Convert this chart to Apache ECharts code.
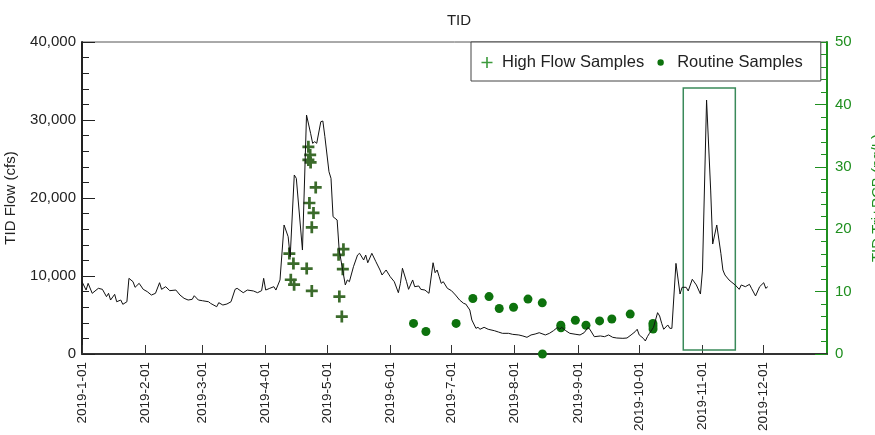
<!DOCTYPE html>
<html>
<head>
<meta charset="utf-8">
<script src="https://cdn.jsdelivr.net/npm/echarts@6/dist/echarts.min.js"></script>
<style>
  html, body { margin: 0; padding: 0; background: #fff; }
  #main { width: 875px; height: 435px; }
</style>
</head>
<body>
<div id="main"></div>
<script>
// daily TID flow (cfs)
const flowDates = [
  '2019-01-01','2019-01-03','2019-01-04','2019-01-06','2019-01-09','2019-01-11','2019-01-13','2019-01-14','2019-01-15','2019-01-17',
  '2019-01-18','2019-01-20','2019-01-21','2019-01-23','2019-01-24','2019-01-26','2019-01-27','2019-01-29','2019-01-31',
  '2019-02-02','2019-02-04','2019-02-06','2019-02-08','2019-02-09','2019-02-11','2019-02-13','2019-02-16','2019-02-18','2019-02-20',
  '2019-02-22','2019-02-24','2019-02-25','2019-02-27',
  '2019-03-01','2019-03-04','2019-03-05','2019-03-08','2019-03-09','2019-03-11','2019-03-13','2019-03-15','2019-03-17','2019-03-18',
  '2019-03-21','2019-03-23','2019-03-26','2019-03-28','2019-03-30','2019-03-31',
  '2019-04-01','2019-04-03','2019-04-05','2019-04-06','2019-04-08','2019-04-10','2019-04-12','2019-04-13','2019-04-15','2019-04-16',
  '2019-04-19','2019-04-21','2019-04-23','2019-04-24','2019-04-25','2019-04-26','2019-04-28','2019-04-29','2019-04-30',
  '2019-05-02','2019-05-03','2019-05-04','2019-05-06','2019-05-07','2019-05-09','2019-05-10','2019-05-11','2019-05-12','2019-05-14',
  '2019-05-16','2019-05-17','2019-05-19','2019-05-20','2019-05-21','2019-05-23','2019-05-25','2019-05-27','2019-05-28','2019-05-30',
  '2019-06-01','2019-06-03','2019-06-05','2019-06-06','2019-06-07','2019-06-09','2019-06-10','2019-06-12','2019-06-13','2019-06-15',
  '2019-06-16','2019-06-18','2019-06-20','2019-06-22','2019-06-23','2019-06-24','2019-06-25','2019-06-26','2019-06-27','2019-06-29',
  '2019-07-01','2019-07-03','2019-07-05','2019-07-07','2019-07-08','2019-07-10','2019-07-11','2019-07-13','2019-07-14','2019-07-15',
  '2019-07-17','2019-07-19','2019-07-22','2019-07-24','2019-07-26','2019-07-29','2019-07-31',
  '2019-08-03','2019-08-05','2019-08-07','2019-08-09','2019-08-11','2019-08-13','2019-08-16','2019-08-18','2019-08-20','2019-08-22',
  '2019-08-23','2019-08-24','2019-08-26','2019-08-28','2019-08-31',
  '2019-09-02','2019-09-04','2019-09-06','2019-09-07','2019-09-09','2019-09-12','2019-09-14','2019-09-16','2019-09-18','2019-09-20',
  '2019-09-23','2019-09-25','2019-09-27','2019-09-29','2019-09-30',
  '2019-10-01','2019-10-03','2019-10-04','2019-10-05','2019-10-06','2019-10-08','2019-10-10','2019-10-11','2019-10-12','2019-10-13',
  '2019-10-15','2019-10-16','2019-10-17','2019-10-19','2019-10-21','2019-10-22','2019-10-24','2019-10-25','2019-10-27','2019-10-29',
  '2019-10-31',
  '2019-11-01','2019-11-03','2019-11-05','2019-11-06','2019-11-08','2019-11-10','2019-11-11','2019-11-12','2019-11-14','2019-11-15',
  '2019-11-17','2019-11-19','2019-11-20','2019-11-22','2019-11-24','2019-11-25','2019-11-27','2019-11-29',
  '2019-12-01','2019-12-02','2019-12-03'
];
const flowValues = [
  9270,8200,9060,7780,8420,8290,7350,7780,6920,7650,
  6700,6920,6370,6700,9700,9270,8550,9060,8290,
  7990,7560,7780,9140,8290,8630,8120,8200,7560,7140,
  6920,7010,7470,6920,
  6830,6700,6490,6060,6580,6280,6410,6700,8290,8420,
  7860,8200,8080,7860,8120,9700,
  8200,8420,8630,8200,9490,16540,15040,12470,22950,22520,
  13330,30640,28290,27010,27220,27010,29780,29870,27860,
  23370,22520,17600,17180,13330,10350,8850,9490,9270,11190,
  12690,12910,12050,12690,11700,12910,11830,10770,10130,10770,
  9910,9270,7860,9060,10990,9270,8290,9490,8630,8720,
  8290,8200,7780,11700,10420,10770,9910,9060,9270,8420,
  8120,7560,6920,6490,6410,5640,4360,3290,3420,3170,
  3420,3170,2990,2820,2650,2650,2520,
  2440,2310,2140,2440,2560,2730,2440,2650,2990,3420,
  3170,3420,2990,2650,2520,
  2440,2730,3420,3080,2220,2310,2220,2440,2140,2050,
  2010,2050,2440,2860,3170,
  2440,2010,1670,2220,2650,3420,5300,4870,3940,3170,
  3720,3290,3290,11620,7690,8550,8550,8080,9580,8850,
  7690,
  10770,32560,21020,14100,16540,12910,10770,10130,9490,9270,
  8850,8290,8850,8630,8930,8420,7440,8630,
  9140,8420,8630
];

// Tri+PCB concentrations (pg/L)
const highFlowDates = [
  '2019-04-21 22:00','2019-04-22 19:00','2019-04-21 22:00','2019-04-23 00:00','2019-04-25 12:00',
  '2019-04-22 10:00','2019-04-24 10:00','2019-04-23 14:00','2019-04-12 14:00','2019-04-14 14:00',
  '2019-04-13 07:00','2019-04-14 22:00','2019-04-21 02:00','2019-04-23 14:00','2019-05-06 17:00',
  '2019-05-09 02:00','2019-05-08 19:00','2019-05-07 02:00','2019-05-08 07:00'
];
const highFlowValues = [
  33.2,31.9,31.1,30.7,26.7,
  24.2,22.6,20.3,16.1,14.5,
  11.9,11.1,13.7,10.1,15.9,
  16.8,13.6,9.2,6.0
];
const routineDates = [
  '2019-06-12 10:00','2019-06-18 12:00','2019-07-03 07:00','2019-07-11 12:00','2019-07-19 10:00',
  '2019-07-24 10:00','2019-07-31 10:00','2019-08-07 12:00','2019-08-14 12:00','2019-08-14 14:00',
  '2019-08-23 14:00','2019-08-23 16:00','2019-08-30 17:00','2019-09-04 22:00','2019-09-11 14:00',
  '2019-09-17 14:00','2019-09-26 14:00','2019-10-07 17:00','2019-10-07 18:00','2019-10-07 19:00'
];
const routineValues = [
  4.9,3.6,4.9,8.9,9.2,
  7.3,7.5,8.8,8.2,0,
  4.6,4.2,5.4,4.6,5.3,
  5.6,6.4,4.9,4.5,4.0
];

// highlighted storm window (dates, flow range)
const boxDates = ['2019-10-22 14:00', '2019-11-17 02:00'];
const boxFlow = [500, 34100];

const monthLabels = ['2019-1-01','2019-2-01','2019-3-01','2019-4-01','2019-5-01','2019-6-01',
  '2019-7-01','2019-8-01','2019-9-01','2019-10-01','2019-11-01','2019-12-01'];

const plusSymbol = 'path://M4.25,0H6.75V4.25H11V6.75H6.75V11H4.25V6.75H0V4.25H4.25Z';
const plusIcon = 'path://M0,0L0.01,0M20,14L20.01,14M4.5,6.2H15.5V7.8H4.5ZM9.2,1.5H10.8V12.5H9.2Z';
const dotIcon = 'path://M0,0L0.01,0M20,14L20.01,14M5.3,7A3.2,3.2,0,1,0,11.7,7A3.2,3.2,0,1,0,5.3,7Z';

const green = '#1f8f1f';
const font = 'Liberation Sans, Arial, sans-serif';

let chart = echarts.init(document.getElementById('main'));
let option = {
  backgroundColor: '#ffffff',
  animation: false,
  textStyle: { fontFamily: font },
  title: {
    text: 'TID',
    left: 454,
    top: 8,
    textAlign: 'center',
    textStyle: { fontSize: 15, fontWeight: 'normal', color: '#222', fontFamily: font }
  },
  legend: {
    left: 471,
    top: 42,
    orient: 'horizontal',
    padding: [12, 18, 10, 6],
    itemWidth: 20,
    itemHeight: 14,
    itemGap: 8,
    backgroundColor: '#fff',
    borderColor: '#444',
    borderWidth: 1,
    textStyle: { fontSize: 16.5, color: '#222', fontFamily: font },
    data: [
      { name: 'High Flow Samples', icon: plusIcon, itemStyle: { color: '#3c9a3c' } },
      { name: 'Routine Samples', icon: dotIcon, itemStyle: { color: '#0d720d' } }
    ]
  },
  grid: {
    left: 82, right: 48, top: 42, bottom: 81,
    outerBoundsMode: 'none',
    containLabel: false,
    show: true, borderColor: '#555', borderWidth: 1, backgroundColor: 'transparent'
  },
  xAxis: {
    type: 'time',
    min: '2019-01-01',
    max: '2020-01-01',
    splitNumber: 12,
    axisLine: { lineStyle: { color: '#333', width: 2 } },
    axisTick: { inside: true, length: 9, lineStyle: { color: '#333', width: 1 } },
    splitLine: { show: false },
    axisLabel: {
      rotate: 90,
      margin: 8,
      fontSize: 13.5,
      color: '#222',
      fontFamily: font,
      showMaxLabel: false,
      formatter: function (v) {
        let d = new Date(v);
        if (d.getFullYear() !== 2019 || d.getDate() !== 1) return '';
        return monthLabels[d.getMonth()];
      }
    }
  },
  yAxis: [
    {
      type: 'value',
      min: 0, max: 40000, interval: 10000,
      name: 'TID Flow (cfs)',
      nameLocation: 'middle',
      nameRotate: 90,
      nameGap: 64,
      nameTextStyle: { fontSize: 15, color: '#222', fontFamily: font },
      axisLine: { show: true, lineStyle: { color: '#222', width: 2 } },
      axisTick: { show: true, inside: true, length: 13, lineStyle: { color: '#222', width: 1 } },
      minorTick: { show: true, splitNumber: 5, length: 7, lineStyle: { color: '#222', width: 1 } },
      splitLine: { show: false },
      axisLabel: {
        fontSize: 15, color: '#222', margin: 6, fontFamily: font,
        formatter: function (v) { return v.toLocaleString('en-US'); }
      }
    },
    {
      type: 'value',
      position: 'right',
      min: 0, max: 50, interval: 10,
      name: 'TID Tri+PCB (pg/L)',
      nameLocation: 'middle',
      nameRotate: 90,
      nameGap: 43,
      nameTextStyle: { fontSize: 15, color: green, fontFamily: font },
      axisLine: { show: true, lineStyle: { color: green, width: 2 } },
      axisTick: { show: true, inside: true, length: 12, lineStyle: { color: green, width: 1 } },
      minorTick: { show: true, splitNumber: 5, length: 6, lineStyle: { color: green, width: 1 } },
      splitLine: { show: false },
      axisLabel: { fontSize: 15, color: green, margin: 8, fontFamily: font }
    }
  ],
  series: [
    {
      name: 'TID Flow',
      type: 'line',
      yAxisIndex: 0,
      showSymbol: false,
      symbol: 'none',
      lineStyle: { color: '#111', width: 1 },
      data: flowDates.map((d, i) => [d, flowValues[i]]),
      markArea: {
        silent: true,
        itemStyle: { color: 'transparent', borderColor: '#3a8a5a', borderWidth: 1.5 },
        data: [[
          { xAxis: boxDates[0], yAxis: boxFlow[0] },
          { xAxis: boxDates[1], yAxis: boxFlow[1] }
        ]]
      }
    },
    {
      name: 'High Flow Samples',
      type: 'scatter',
      yAxisIndex: 1,
      symbol: plusSymbol,
      symbolSize: 12,
      itemStyle: { color: '#3b6b2b', opacity: 1 },
      data: highFlowDates.map((d, i) => [d, highFlowValues[i]])
    },
    {
      name: 'Routine Samples',
      type: 'scatter',
      yAxisIndex: 1,
      symbol: 'circle',
      symbolSize: 9,
      clip: false,
      itemStyle: { color: '#0d720d', opacity: 1 },
      data: routineDates.map((d, i) => [d, routineValues[i]])
    }
  ]
};
option && chart.setOption(option);
</script>
</body>
</html>
